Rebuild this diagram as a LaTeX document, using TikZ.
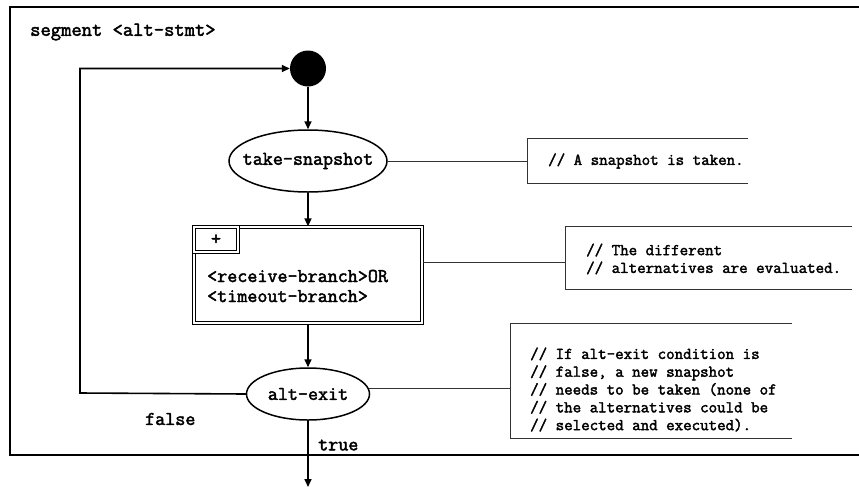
\documentclass[tikz,border=0pt]{standalone}
\usepackage{fontspec}
\setmonofont{Latin Modern Mono}[AutoFakeBold=2.2]
\usetikzlibrary{arrows.meta,shapes.geometric}
\begin{document}
\begin{tikzpicture}[x=1pt,y=-1pt,
  big/.style={font=\ttfamily\bfseries\fontsize{19.5}{20}\selectfont},
  notefont/.style={font=\ttfamily\bfseries\fontsize{16.5}{17.8}\selectfont},
  flow/.style={line width=1.6pt,-{Triangle[length=8pt,width=7pt]}},
  oval/.style={ellipse, draw, line width=1.5pt, inner sep=0pt, big},
  noteframe/.style={draw=none, inner sep=0pt, rectangle},
  notestroke/.style={draw=black!80, line width=1pt},
  notetext/.style={notefont, inner sep=0pt, anchor=west, align=left},
  dbl/.style={draw, double, line width=0.7pt, double distance=2.3pt, inner sep=0pt, rectangle},
  lbl/.style={big, inner sep=0pt, anchor=west}
]
\useasboundingbox (0,0) rectangle (859,488);
% frame
\draw[line width=2pt] (862,7) -- (10,7) -- (10,455) -- (862,455);
\node[lbl, font=\ttfamily\bfseries\fontsize{20}{20}\selectfont] (title) at (30,32) {segment <alt-stmt>};

% nodes
\node[circle, fill=black, minimum size=36pt, inner sep=0pt] (start) at (308,68.5) {};
\node[oval, minimum width=158pt, minimum height=62pt] (take) at (308,161) {\makebox[0pt]{take-snapshot}};
\node[dbl, minimum width=228.6pt, minimum height=96.6pt] (box) at (308,275) {};
\node[dbl, fill=white, minimum width=44.6pt, minimum height=25.6pt, big] (plus) at (216,239.5) {+};
\node[big, inner sep=0pt, anchor=west, align=left] (boxtext) at (207,286) {<receive-branch>OR\\<timeout-branch>};
\node[oval, minimum width=123pt, minimum height=52pt] (alt) at (308,394) {\makebox[0pt]{alt-exit}};
\node[lbl] (false) at (145,419) {false};
\node[lbl] (true) at (318,445) {true};
\coordinate (endc) at (308,487);
\coordinate (lc) at (80,393);
\coordinate (c2) at (0,262);

% notes
\node[noteframe, minimum width=220pt, minimum height=44pt] (n1) at (638,161) {};
\node[notetext] (t1) at (548,161) {// A snapshot is taken.};
\node[noteframe, minimum width=286pt, minimum height=62pt] (n2) at (709,258) {};
\node[notetext] (t2) at (586,259) {// The different\\// alternatives are evaluated.};
\node[noteframe, minimum width=281pt, minimum height=114pt] (n3) at (651.5,381) {};
\node[notetext] (t3) at (530,389.5) {// If alt-exit condition is\\// false, a new snapshot\\// needs to be taken (none of\\// the alternatives could be\\// selected and executed).};

\foreach \n in {n1,n2,n3}
  \draw[notestroke] (\n.north east) -- (\n.north west) -- (\n.south west) -- (\n.south east);

% connectors
\draw[flow] (start) -- (take);
\draw[flow] (take) -- (box);
\draw[flow] (box) -- (alt);
\draw[flow] (alt) -- (endc);
\draw[flow] (alt.west) -- (lc) |- (start.west);
\draw[notestroke] (take.east) -- (n1.west);
\draw[notestroke] (box.east |- c2) -- (n2.west |- c2);
\draw[notestroke] (alt.5) -- (n3.west |- alt.5);
\end{tikzpicture}
\end{document}
